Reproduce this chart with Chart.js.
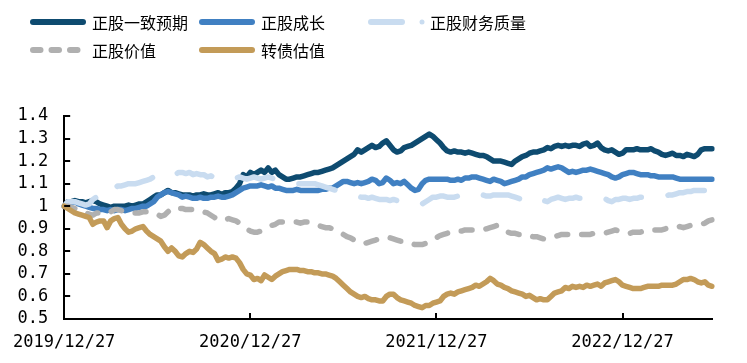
<!DOCTYPE html>
<html>
<head>
<meta charset="utf-8">
<script src="https://cdn.jsdelivr.net/npm/chart.js@4.4.1/dist/chart.umd.min.js"></script>
<style>
  html, body { margin: 0; padding: 0; background: #fff; }
  #wrap { width: 747px; height: 363px; position: relative; }
</style>
</head>
<body>
<div id="wrap"><canvas id="myChart"></canvas></div>
<script>
// weekly index values, first week = 2019/12/27
var seriesNames = ['正股一致预期', '正股成长', '正股财务质量', '正股价值', '转债估值'];

var consensus = [
  1.00, 1.02, 1.02, 1.025, 1.02, 1.02, 1.015, 1.02, 1.025, 1.02,
  1.01, 1.005, 1.00, 0.995, 1.00, 1.00, 1.00, 1.00, 1.005, 1.00,
  1.005, 1.01, 1.01, 1.02, 1.03, 1.04, 1.05, 1.05, 1.06, 1.07,
  1.06, 1.06, 1.055, 1.05, 1.05, 1.05, 1.045, 1.05, 1.05, 1.055,
  1.05, 1.05, 1.055, 1.06, 1.05, 1.06, 1.06, 1.065, 1.08, 1.10,
  1.14, 1.13, 1.15, 1.14, 1.15, 1.16, 1.15, 1.17, 1.15, 1.16,
  1.14, 1.13, 1.12, 1.12, 1.125, 1.13, 1.13, 1.135, 1.14, 1.145,
  1.15, 1.15, 1.155, 1.16, 1.165, 1.17, 1.18, 1.19, 1.20, 1.21,
  1.22, 1.23, 1.25, 1.24, 1.25, 1.26, 1.27, 1.26, 1.265, 1.28,
  1.29, 1.27, 1.25, 1.24, 1.245, 1.26, 1.265, 1.27, 1.28, 1.29,
  1.30, 1.31, 1.32, 1.31, 1.295, 1.28, 1.26, 1.245, 1.24, 1.245,
  1.24, 1.24, 1.235, 1.24, 1.235, 1.23, 1.225, 1.225, 1.22, 1.21,
  1.20, 1.20, 1.20, 1.195, 1.19, 1.185, 1.20, 1.21, 1.22, 1.225,
  1.235, 1.24, 1.24, 1.245, 1.25, 1.26, 1.255, 1.265, 1.27, 1.265,
  1.27, 1.265, 1.27, 1.27, 1.265, 1.275, 1.28, 1.265, 1.27, 1.28,
  1.26, 1.25, 1.245, 1.25, 1.24, 1.23, 1.235, 1.25, 1.25, 1.25,
  1.255, 1.25, 1.25, 1.25, 1.255, 1.245, 1.24, 1.23, 1.225, 1.23,
  1.235, 1.225, 1.225, 1.22, 1.23, 1.225, 1.22, 1.23, 1.25, 1.255,
  1.255, 1.255
];

var growth = [
  1.00, 1.01, 1.015, 1.02, 1.01, 1.005, 1.00, 0.995, 0.99, 0.99,
  0.985, 0.985, 0.98, 0.985, 0.98, 0.985, 0.985, 0.98, 0.985, 0.99,
  0.99, 0.995, 1.00, 1.00, 1.01, 1.02, 1.04, 1.05, 1.06, 1.065,
  1.06, 1.055, 1.05, 1.04, 1.045, 1.04, 1.035, 1.035, 1.04, 1.035,
  1.035, 1.04, 1.04, 1.045, 1.04, 1.04, 1.045, 1.05, 1.06, 1.07,
  1.08, 1.085, 1.09, 1.09, 1.09, 1.095, 1.09, 1.085, 1.09, 1.08,
  1.08, 1.075, 1.07, 1.07, 1.07, 1.075, 1.07, 1.07, 1.07, 1.07,
  1.07, 1.07, 1.075, 1.075, 1.08, 1.08, 1.09, 1.10, 1.11, 1.11,
  1.105, 1.10, 1.105, 1.10, 1.105, 1.11, 1.12, 1.115, 1.10, 1.105,
  1.125, 1.115, 1.10, 1.105, 1.10, 1.11, 1.095, 1.08, 1.07, 1.075,
  1.10, 1.115, 1.12, 1.12, 1.12, 1.12, 1.12, 1.12, 1.115, 1.115,
  1.12, 1.115, 1.125, 1.125, 1.13, 1.13, 1.125, 1.12, 1.115, 1.11,
  1.12, 1.115, 1.11, 1.10, 1.105, 1.11, 1.115, 1.12, 1.13, 1.13,
  1.14, 1.145, 1.15, 1.155, 1.16, 1.17, 1.165, 1.17, 1.175, 1.17,
  1.16, 1.15, 1.155, 1.15, 1.155, 1.16, 1.16, 1.165, 1.16, 1.155,
  1.15, 1.145, 1.14, 1.13, 1.125, 1.13, 1.14, 1.145, 1.15, 1.15,
  1.145, 1.14, 1.14, 1.14, 1.135, 1.135, 1.13, 1.13, 1.13, 1.13,
  1.13, 1.125, 1.12, 1.12, 1.12, 1.12, 1.12, 1.12, 1.12, 1.12,
  1.12, 1.12
];

var quality = [
  1.00, 1.02, 1.02, 1.02, 1.015, 1.01, 1.005, 1.01, 1.03, 1.04,
  1.05, 1.04, 1.06, 1.07, 1.08, 1.09, 1.09, 1.095, 1.10, 1.10,
  1.10, 1.105, 1.11, 1.115, 1.12, 1.13, 1.135, 1.14, 1.14, 1.13,
  1.13, 1.14, 1.15, 1.15, 1.145, 1.15, 1.14, 1.145, 1.14, 1.14,
  1.13, 1.135, 1.125, 1.12, 1.12, 1.12, 1.115, 1.12, 1.125, 1.13,
  1.125, 1.12, 1.125, 1.13, 1.125, 1.12, 1.125, 1.13, 1.125, 1.12,
  1.115, 1.11, 1.11, 1.105, 1.10, 1.10, 1.10, 1.10, 1.10, 1.10,
  1.10, 1.095, 1.09, 1.085, 1.08, 1.075, 1.07, 1.065, 1.06, 1.06,
  1.055, 1.05, 1.045, 1.04, 1.04, 1.035, 1.04, 1.035, 1.03, 1.03,
  1.03, 1.025, 1.03, 1.025, 1.02, 1.02, 1.015, 1.01, 1.01, 1.005,
  1.01, 1.02, 1.03, 1.04, 1.04, 1.045, 1.045, 1.04, 1.04, 1.04,
  1.045, 1.04, 1.045, 1.05, 1.045, 1.05, 1.05, 1.05, 1.045, 1.045,
  1.05, 1.05, 1.05, 1.05, 1.05, 1.045, 1.04, 1.035, 1.03, 1.02,
  1.025, 1.03, 1.035, 1.03, 1.025, 1.02, 1.03, 1.035, 1.04, 1.035,
  1.03, 1.035, 1.035, 1.04, 1.035, 1.035, 1.035, 1.035, 1.035, 1.03,
  1.03, 1.035, 1.025, 1.02, 1.03, 1.03, 1.035, 1.035, 1.03, 1.035,
  1.035, 1.04, 1.04, 1.04, 1.04, 1.04, 1.04, 1.045, 1.045, 1.05,
  1.05, 1.055, 1.06, 1.06, 1.065, 1.065, 1.07, 1.07, 1.07, 1.07,
  1.075, 1.075
];

var value = [
  1.00, 1.00, 0.995, 0.99, 0.985, 0.975, 0.97, 0.965, 0.96, 0.97,
  0.97, 0.975, 0.98, 0.975, 0.985, 0.985, 0.98, 0.975, 0.97, 0.97,
  0.97, 0.97, 0.975, 0.975, 0.975, 0.97, 0.965, 0.955, 0.96, 0.975,
  0.99, 0.995, 0.99, 0.99, 0.985, 0.985, 0.985, 0.98, 0.975, 0.975,
  0.97, 0.96, 0.95, 0.94, 0.935, 0.94, 0.945, 0.94, 0.935, 0.925,
  0.91, 0.90, 0.89, 0.885, 0.885, 0.89, 0.90, 0.905, 0.915, 0.92,
  0.93, 0.93, 0.93, 0.93, 0.93, 0.93, 0.925, 0.93, 0.93, 0.925,
  0.92, 0.915, 0.91, 0.905, 0.905, 0.90, 0.89, 0.88, 0.875, 0.865,
  0.86, 0.85, 0.84, 0.835, 0.835, 0.84, 0.845, 0.85, 0.855, 0.855,
  0.855, 0.86, 0.855, 0.85, 0.845, 0.845, 0.84, 0.835, 0.83, 0.83,
  0.83, 0.835, 0.84, 0.85, 0.86, 0.87, 0.875, 0.88, 0.885, 0.885,
  0.89, 0.89, 0.895, 0.895, 0.895, 0.895, 0.895, 0.895, 0.90, 0.905,
  0.91, 0.915, 0.905, 0.895, 0.885, 0.88, 0.88, 0.875, 0.875, 0.875,
  0.87, 0.865, 0.865, 0.86, 0.855, 0.855, 0.86, 0.865, 0.87, 0.875,
  0.875, 0.875, 0.875, 0.875, 0.875, 0.875, 0.875, 0.875, 0.88, 0.88,
  0.88, 0.88, 0.885, 0.89, 0.895, 0.89, 0.885, 0.88, 0.88, 0.885,
  0.885, 0.885, 0.89, 0.89, 0.895, 0.895, 0.895, 0.895, 0.90, 0.905,
  0.905, 0.905, 0.91, 0.905, 0.91, 0.915, 0.915, 0.915, 0.92, 0.925,
  0.935, 0.94
];

var cbValuation = [
  1.00, 0.99, 0.98, 0.97, 0.965, 0.96, 0.955, 0.95, 0.92, 0.93,
  0.935, 0.935, 0.905, 0.935, 0.945, 0.95, 0.92, 0.90, 0.885, 0.89,
  0.90, 0.905, 0.91, 0.89, 0.875, 0.865, 0.855, 0.845, 0.82, 0.80,
  0.815, 0.80, 0.78, 0.775, 0.79, 0.80, 0.795, 0.81, 0.84, 0.83,
  0.815, 0.80, 0.79, 0.76, 0.765, 0.775, 0.77, 0.775, 0.77, 0.75,
  0.72, 0.70, 0.695, 0.675, 0.68, 0.67, 0.695, 0.685, 0.675, 0.69,
  0.70, 0.71, 0.715, 0.72, 0.72, 0.72, 0.715, 0.715, 0.71, 0.71,
  0.705, 0.705, 0.70, 0.70, 0.695, 0.69, 0.68, 0.665, 0.65, 0.635,
  0.62, 0.61, 0.60, 0.595, 0.60, 0.59, 0.585, 0.585, 0.58, 0.58,
  0.60, 0.61, 0.61, 0.595, 0.585, 0.58, 0.575, 0.57, 0.56, 0.555,
  0.55, 0.56, 0.56, 0.57, 0.575, 0.58, 0.60, 0.61, 0.615, 0.61,
  0.62, 0.625, 0.63, 0.635, 0.64, 0.65, 0.645, 0.655, 0.665, 0.68,
  0.67, 0.655, 0.65, 0.64, 0.635, 0.625, 0.62, 0.615, 0.61, 0.60,
  0.605, 0.595, 0.585, 0.59, 0.585, 0.585, 0.60, 0.615, 0.62, 0.625,
  0.64, 0.635, 0.645, 0.64, 0.645, 0.64, 0.65, 0.645, 0.65, 0.655,
  0.645, 0.66, 0.665, 0.67, 0.675, 0.665, 0.65, 0.645, 0.64, 0.635,
  0.635, 0.635, 0.64, 0.645, 0.645, 0.645, 0.645, 0.65, 0.65, 0.65,
  0.65, 0.655, 0.665, 0.675, 0.675, 0.68, 0.675, 0.665, 0.66, 0.665,
  0.65, 0.645
];

var xTickIndex = [0, 52, 104, 156];
var xTickLabels = ['2019/12/27', '2020/12/27', '2021/12/27', '2022/12/27'];

// weekly category labels
var categories = [];
var start = Date.UTC(2019, 11, 27);
for (var i = 0; i < consensus.length; i++) {
  var d = new Date(start + i * 7 * 86400000);
  categories.push(d.getUTCFullYear() + '/' + (d.getUTCMonth() + 1) + '/' + d.getUTCDate());
}

var colors = ['#0E4B70', '#4080C2', '#C9DCF0', '#B0B0B0', '#C39B58'];
var numFont = '"DejaVu Sans Mono", monospace';
var cjkFont = '"Noto Sans CJK SC", sans-serif';

function lineSet(idx, data, dash) {
  return {
    label: seriesNames[idx],
    data: data,
    borderColor: colors[idx],
    backgroundColor: colors[idx],
    borderWidth: 5.5,
    borderDash: dash,
    borderCapStyle: 'round',
    borderJoinStyle: 'round',
    pointRadius: 0,
    pointHoverRadius: 0,
    fill: false,
    tension: 0,
    order: 5 - idx
  };
}

// legend in a fixed grid + inward tick marks
var extras = {
  id: 'extras',
  afterDraw: function(chart) {
    var ctx = chart.ctx;
    var slots = [[30, 22], [199, 22], [368, 22], [30, 50], [199, 50]];
    ctx.save();
    chart.data.datasets.forEach(function(ds, i) {
      var x = slots[i][0], y = slots[i][1];
      ctx.strokeStyle = ds.borderColor;
      ctx.lineWidth = 6;
      ctx.lineCap = 'round';
      ctx.setLineDash([]);
      ctx.beginPath();
      if (i === 3) {
        ctx.setLineDash([7.5, 11]);
        ctx.moveTo(x + 3, y); ctx.lineTo(x + 51, y);
      } else if (i === 2) {
        ctx.moveTo(x + 3, y); ctx.lineTo(x + 34, y);
      } else {
        ctx.moveTo(x + 3, y); ctx.lineTo(x + 53, y);
      }
      ctx.stroke();
      if (i === 2) {
        ctx.setLineDash([]);
        ctx.fillStyle = ds.borderColor;
        ctx.beginPath();
        ctx.arc(x + 54, y, 2.5, 0, Math.PI * 2);
        ctx.fill();
      }
      ctx.fillStyle = '#000';
      ctx.font = '16px ' + cjkFont;
      ctx.textBaseline = 'middle';
      ctx.textAlign = 'left';
      ctx.fillText(ds.label, x + 62, y + 1);
    });

    var area = chart.chartArea;
    var xs = chart.scales.x, ys = chart.scales.y;
    ctx.setLineDash([]);
    ctx.strokeStyle = '#000';
    ctx.lineWidth = 2;
    ctx.lineCap = 'butt';
    ctx.beginPath();
    ys.ticks.forEach(function(t) {
      var py = Math.round(ys.getPixelForValue(t.value));
      ctx.moveTo(area.left, py); ctx.lineTo(area.left + 6, py);
    });
    xTickIndex.forEach(function(v) {
      if (v === 0) return;
      var px = Math.round(xs.getPixelForValue(v));
      ctx.moveTo(px, area.bottom); ctx.lineTo(px, area.bottom - 6);
    });
    ctx.stroke();
    ctx.restore();
  }
};

var ctx = document.getElementById('myChart').getContext('2d');
var myChart = new Chart(ctx, {
  type: 'line',
  data: {
    labels: categories,
    datasets: [
      lineSet(0, consensus, []),
      lineSet(1, growth, []),
      lineSet(2, quality, [37, 27]),
      lineSet(3, value, [11, 14]),
      lineSet(4, cbValuation, [])
    ]
  },
  options: {
    responsive: true,
    maintainAspectRatio: false,
    animation: false,
    layout: { padding: { top: 116, right: 35, left: 0, bottom: 0 } },
    plugins: {
      legend: { display: false },
      tooltip: { enabled: false }
    },
    scales: {
      x: {
        type: 'category',
        offset: false,
        grid: { display: false, drawTicks: false },
        border: { display: true, color: '#000', width: 2 },
        afterBuildTicks: function(axis) {
          axis.ticks = xTickIndex.map(function(v) { return { value: v }; });
        },
        afterFit: function(axis) { axis.height = 44; },
        ticks: {
          autoSkip: false,
          maxRotation: 0,
          padding: 13,
          color: '#000',
          font: { family: numFont, size: 17 },
          callback: function(v) { return xTickLabels[xTickIndex.indexOf(v)]; }
        }
      },
      y: {
        min: 0.5,
        max: 1.4,
        grid: { display: false, drawTicks: false },
        border: { display: true, color: '#000', width: 2 },
        afterFit: function(axis) { axis.width = 63; },
        ticks: {
          stepSize: 0.1,
          autoSkip: false,
          padding: 16,
          color: '#000',
          font: { family: numFont, size: 17 },
          callback: function(v) {
            return Math.abs(v - 1) < 1e-9 ? '1' : v.toFixed(1);
          }
        }
      }
    }
  },
  plugins: [extras]
});
</script>
</body>
</html>
